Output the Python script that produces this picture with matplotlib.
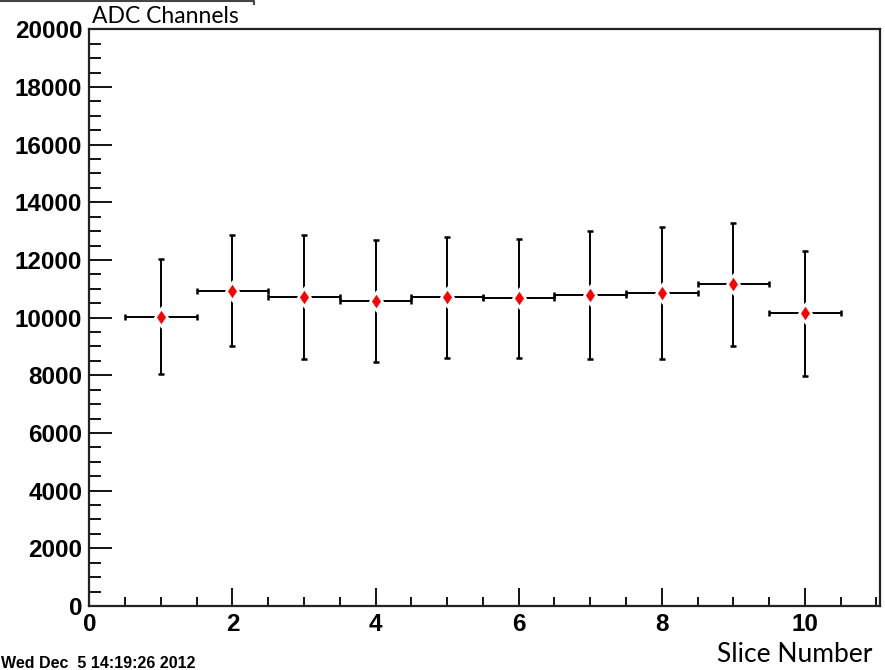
import matplotlib.pyplot as plt
from matplotlib.ticker import MultipleLocator
from matplotlib.lines import Line2D

# slice data
slices = [1, 2, 3, 4, 5, 6, 7, 8, 9, 10]
slice_err = [0.5, 0.5, 0.5, 0.5, 0.5, 0.5, 0.5, 0.5, 0.5, 0.5]
adc = [10030, 10930, 10720, 10570, 10700, 10670, 10780, 10860, 11150, 10150]
adc_err = [2000, 1920, 2160, 2125, 2110, 2065, 2210, 2290, 2145, 2160]

x_ticks = [0, 2, 4, 6, 8, 10]
y_ticks = [0, 2000, 4000, 6000, 8000, 10000, 12000, 14000, 16000, 18000, 20000]

tick_font = "Liberation Sans"
label_font = "Lato"

fig = plt.figure(figsize=(8.85, 6.7), dpi=100)
ax = fig.add_axes([89.3 / 885, 64 / 670, (880 - 89.3) / 885, (606 - 29.3) / 670])

ax.errorbar(slices, adc, xerr=slice_err, yerr=adc_err, fmt="d", color="black",
            ecolor="black", elinewidth=1.4, capsize=2.5, capthick=1.4,
            markerfacecolor="red", markeredgecolor="white", markeredgewidth=1.8,
            markersize=9.5)
# red marker again on top, without the white halo
ax.plot(slices, adc, "d", color="red", markersize=8, markeredgewidth=0)

ax.set_xlim(0, 11.05)
ax.set_ylim(0, 20000)
ax.set_xticks(x_ticks)
ax.set_yticks(y_ticks)
ax.xaxis.set_minor_locator(MultipleLocator(0.5))
ax.yaxis.set_minor_locator(MultipleLocator(500))

ax.tick_params(axis="x", which="major", direction="in", length=13, width=1.3, pad=5)
ax.tick_params(axis="x", which="minor", direction="in", length=6.5, width=1.3)
ax.tick_params(axis="y", which="major", direction="in", length=16.5, width=1.3, pad=5)
ax.tick_params(axis="y", which="minor", direction="in", length=8.5, width=1.3)
for lab in ax.get_xticklabels() + ax.get_yticklabels():
    lab.set_fontfamily(tick_font)
    lab.set_fontweight("bold")
    lab.set_fontsize(17.5)

for sp in ax.spines.values():
    sp.set_linewidth(1.6)
    sp.set_color("#222222")

fig.text(92 / 885, 1 - 23 / 670, "ADC Channels", family=label_font, fontsize=16.5,
         ha="left", va="baseline")
fig.text(872 / 885, 1 - 662 / 670, "Slice Number", family=label_font, fontsize=19,
         ha="right", va="baseline")
fig.text(1 / 885, 1 - 668 / 670, "Wed Dec  5 14:19:26 2012", family=tick_font,
         fontweight="bold", fontsize=11.5, ha="left", va="baseline")

# remnant of the title box at the top left
fig.add_artist(Line2D([0, 254 / 885, 254 / 885], [669 / 670, 669 / 670, 666 / 670],
                      color="#444444", linewidth=1.5, transform=fig.transFigure))

fig.savefig("out.png", dpi=100)
plt.close(fig)
